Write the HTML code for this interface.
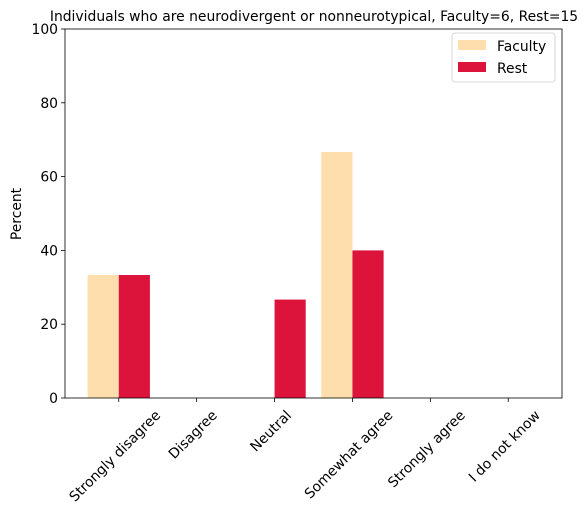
<!DOCTYPE html>
<html><head><meta charset="utf-8"><style>
body{margin:0;background:#fff}
svg{font-family:"DejaVu Sans","Liberation Sans",sans-serif}
</style></head><body>
<svg id="c" width="587" height="514" xmlns="http://www.w3.org/2000/svg" style="position:absolute;left:0;top:0"></svg>
<svg width="587" height="514" style="position:absolute;left:0;top:0" xmlns="http://www.w3.org/2000/svg">
<text x="314" y="21" font-size="13.9" text-anchor="middle">Individuals who are neurodivergent or nonneurotypical, Faculty=6, Rest=15</text>
<text x="21" y="214" font-size="13.9" text-anchor="middle" transform="rotate(-90 21 214)">Percent</text>
<g>
<rect x="452" y="33" width="103" height="49" rx="3" fill="#fff" stroke="#ccc" stroke-width="0.8"/>
<rect x="458" y="40" width="28" height="10" fill="#ffdead"/>
<text x="497" y="51" font-size="13.9">Faculty</text>
<rect x="458" y="62" width="28" height="10" fill="#dc143c"/>
<text x="497" y="73" font-size="13.9">Rest</text>
</g>
</svg>
<script>
const categories=["Strongly disagree","Disagree","Neutral","Somewhat agree","Strongly agree","I do not know"];
const facultyValues=[33.33,0,0,66.67,0,0];
const restValues=[33.33,0,26.67,40,0,0];
const yTicks=[0,20,40,60,80,100];
const L=65,R=562,T=29,B=398;
const xmin=-0.69,xmax=5.69;
const X=v=>L+(v-xmin)/(xmax-xmin)*(R-L);
const Y=v=>B-v/100*(B-T);
const svg=document.getElementById('c');
const NS='http://www.w3.org/2000/svg';
function mk(t,a,p){const e=document.createElementNS(NS,t);for(const k in a)e.setAttribute(k,a[k]);(p||svg).appendChild(e);return e;}
const bw=0.4;
const fs=13.9;
categories.forEach((c,i)=>{
  const f=mk('rect',{x:X(i-bw),y:Y(facultyValues[i]),width:X(i)-X(i-bw),height:B-Y(facultyValues[i]),fill:'#ffdead'});
  
  
  const r=mk('rect',{x:X(i),y:Y(restValues[i]),width:X(i+bw)-X(i),height:B-Y(restValues[i]),fill:'#dc143c'});
  
  
  mk('line',{x1:X(i),x2:X(i),y1:B,y2:B+4,stroke:'#000','stroke-width':0.8});
  const t=mk('text',{'font-size':fs,'text-anchor':'middle'});
  t.textContent=c;
  
  
  const w=t.getComputedTextLength();
  const h=(w+fs*1.15)*0.7071;
  const cx=X(i)-4,cy=B+9+h/2;
  t.setAttribute('x',cx);t.setAttribute('y',cy+fs*0.35);
  t.setAttribute('transform',`rotate(-45 ${cx} ${cy})`);
});
yTicks.forEach(v=>{
  mk('line',{x1:L-4,x2:L,y1:Y(v),y2:Y(v),stroke:'#000','stroke-width':0.8});
  const t=mk('text',{x:L-7,y:Y(v)+5,'font-size':fs,'text-anchor':'end'});
  t.textContent=v;
  
  
});
mk('rect',{x:L,y:T,width:R-L,height:B-T,fill:'none',stroke:'#000','stroke-width':0.8,});
</script>
</body></html>
